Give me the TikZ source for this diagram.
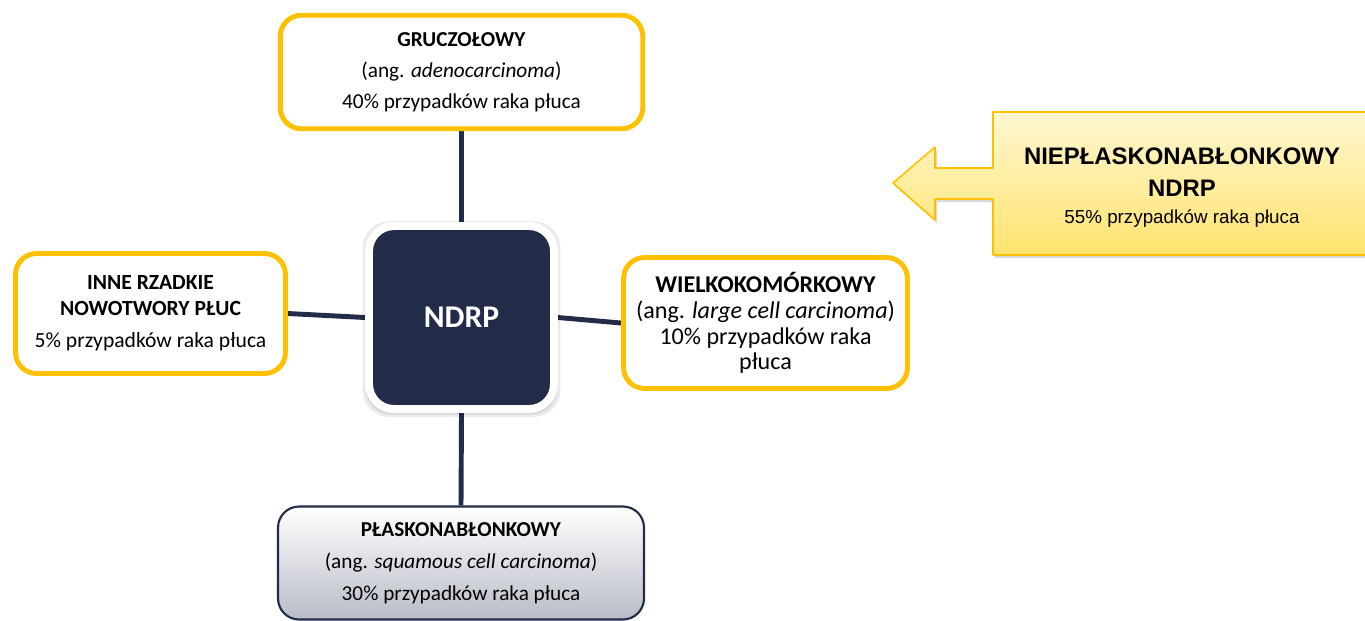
\documentclass[tikz,border=0pt]{standalone}
\usepackage{fontspec}
\setmainfont{Carlito}
\newfontfamily\arialfont{Liberation Sans}
\usetikzlibrary{shadows, backgrounds}
\definecolor{ndrpnavy}{HTML}{222B47}
\definecolor{ndrpgold}{HTML}{FFC000}
\definecolor{calltop}{HTML}{FFF7D2}
\definecolor{callbot}{HTML}{FFE36E}
\definecolor{greybot}{HTML}{B9BCC7}

\begin{document}
\begin{tikzpicture}[x=0.02cm, y=-0.02cm, line join=round,
	yellowbox/.style={draw=ndrpgold, line width=2.8pt, fill=white, rounded corners=0.42cm, align=center, inner sep=0pt},
	greybox/.style={draw=ndrpnavy, line width=1.2pt, top color=white, bottom color=greybot, rounded corners=0.42cm, align=center, inner sep=0pt},
	darkbox/.style={draw=white, line width=4.5pt, fill=ndrpnavy, rounded corners=0.5cm, text=white, align=center,
		general shadow={fill=black, opacity=0.08, shadow scale=1.07, shadow yshift=-0.03cm},
		general shadow={fill=black, opacity=0.08, shadow scale=1.04, shadow yshift=-0.04cm}},
	link/.style={draw=ndrpnavy, line width=2.8pt}]
	\useasboundingbox (0,0) rectangle (1365,620);
	% central node
	\node[darkbox, minimum width=3.7cm, minimum height=3.66cm, font=\fontsize{18}{18}\selectfont\bfseries] (ndrp) at (461.5,317.5) {NDRP};
	% four subtypes
	\node[yellowbox, minimum width=7.25cm, minimum height=2.27cm, font=\fontsize{12.1}{17.6}\selectfont] (grucz) at (461.5,72)
		{\textbf{GRUCZOŁOWY}\\(ang. \textit{adenocarcinoma})\\40\% przypadków raka płuca};
	\node[yellowbox, minimum width=5.4cm, minimum height=2.4cm, font=\fontsize{12.3}{14.7}\selectfont] (inne) at (150.5,313.5)
		{\textbf{INNE RZADKIE}\\\textbf{NOWOTWORY PŁUC}\\[3.5pt]5\% przypadków raka płuca};
	\node[yellowbox, minimum width=5.68cm, minimum height=2.62cm, font=\fontsize{13.7}{14.7}\selectfont] (wielko) at (765.5,323)
		{\textbf{WIELKOKOMÓRKOWY}\\(ang. \textit{large cell carcinoma})\\10\% przypadków raka\\płuca};
	\node[greybox, minimum width=7.32cm, minimum height=2.26cm, font=\fontsize{12.1}{18.1}\selectfont] (plasko) at (461,563)
		{\textbf{PŁASKONABŁONKOWY}\\(ang. \textit{squamous cell carcinoma})\\30\% przypadków raka płuca};
	\begin{scope}[on background layer]
		\draw[link] (grucz.south) -- (ndrp.north);
		\draw[link] (plasko.north) -- (ndrp.south);
		\draw[link] (inne.east) -- (ndrp.west);
		\draw[link] (wielko.west) -- (ndrp.east);
	\end{scope}
	% callout arrow
	\draw[draw=ndrpgold, line width=0.9pt, top color=calltop, bottom color=callbot,
		drop shadow={opacity=0.3, shadow xshift=0.04cm, shadow yshift=-0.06cm}]
		(1380,112) -- (993,112) -- (993,168) -- (935,168) -- (935,147) -- (893,183)
		-- (935,220) -- (935,199) -- (993,199) -- (993,255) -- (1380,255) -- cycle;
	\node[align=center, font=\arialfont\fontsize{13.6}{17}\selectfont\bfseries] (nieplasko) at (1182,187.5)
		{NIEPŁASKONABŁONKOWY\\[0.9pt]NDRP\\[-1.5pt]{\fontsize{10.7}{14}\selectfont\mdseries 55\% przypadków raka płuca}};
\end{tikzpicture}
\end{document}
